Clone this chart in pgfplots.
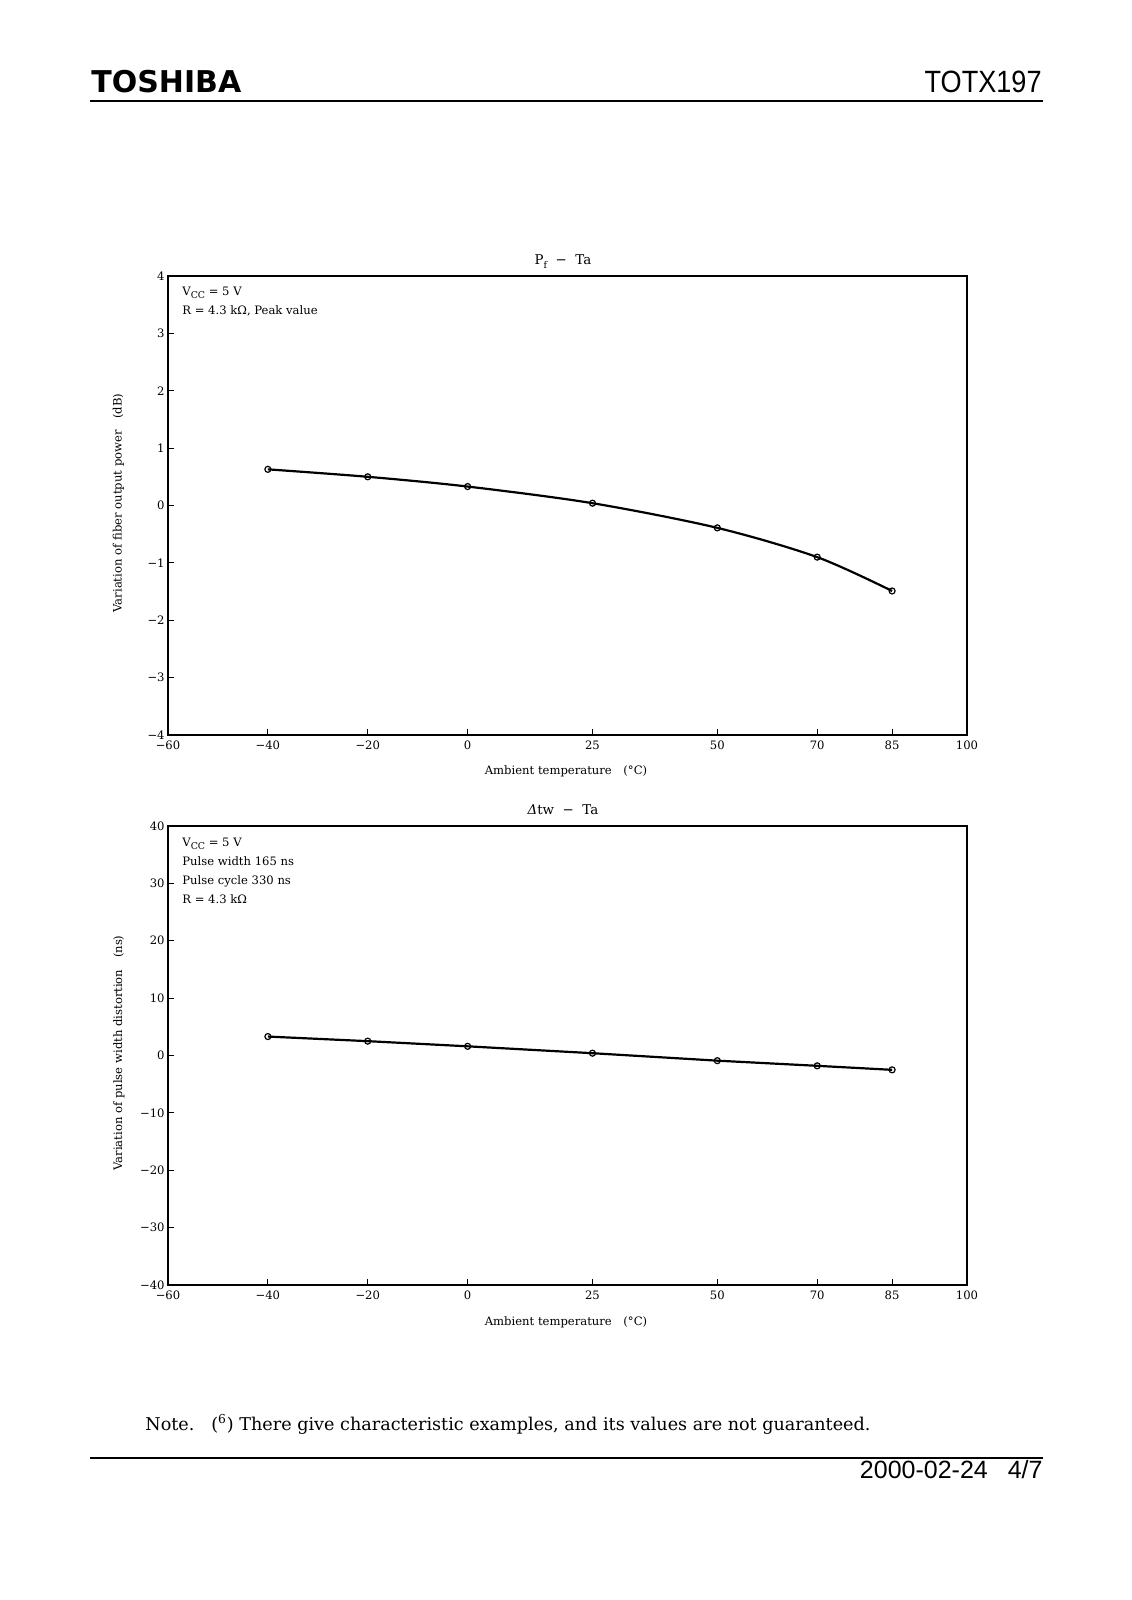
\documentclass[border=0pt]{standalone}
\usepackage{pgfplots}
\pgfplotsset{compat=1.18}
\usepackage{fontspec}
\setmainfont{DejaVu Serif}
\newfontfamily\hdrfont{Liberation Sans}
\newfontfamily\logofont{DejaVu Sans}
\newcommand{\lbl}{\fontsize{5.8}{9.2}\selectfont}
\newcommand{\sub}[1]{\raisebox{-0.45ex}{\fontsize{4.7}{5}\selectfont #1}}

\pgfplotsset{
  sheet/.style={
    scale only axis, width=399.5pt, height=229.5pt, anchor=south west,
    xmin=-60, xmax=100,
    xtick={-60,-40,-20,0,25,50,70,85,100},
    xticklabels={−60,−40,−20,0,25,50,70,85,100},
    tick pos=left, tick align=inside, major tick length=3pt,
    axis line style={line width=1pt},
    tick style={line width=0.6pt, black},
    ticklabel style={font=\lbl, inner sep=1.5pt},
    xticklabel style={yshift=-1.2pt},
  },
  curve/.style={black, line width=1.1pt, mark=o, mark size=1.5pt,
    mark options={fill=white, line width=0.6pt}},
}

\begin{document}
\begin{tikzpicture}
\fill[white] (0,0) rectangle (565.5pt,800pt);

% Pf - Ta
\begin{axis}[sheet, at={(84pt,432.5pt)},
  ymin=-4, ymax=4, ytick={-4,-3,...,4},
  yticklabels={−4,−3,−2,−1,0,1,2,3,4}]
\addplot[curve, smooth] coordinates {
  (-40,0.63) (-20,0.50) (0,0.33) (25,0.04) (50,-0.39) (70,-0.90) (85,-1.49)};
\end{axis}

% dtw - Ta
\begin{axis}[sheet, at={(84pt,157.5pt)},
  ymin=-40, ymax=40, ytick={-40,-30,...,40},
  yticklabels={−40,−30,−20,−10,0,10,20,30,40}]
\addplot[curve] coordinates {
  (-40,3.3) (-20,2.5) (0,1.6) (25,0.4) (50,-0.9) (70,-1.8) (85,-2.5)};
\end{axis}

\begin{scope}[x=0.5pt, y=-0.5pt, yshift=800pt]
  % header
  \node[anchor=base west, inner sep=0, font=\logofont\bfseries\fontsize{15}{15}\selectfont] at (91,93) {TOSHIBA};
  \node[anchor=base east, inner sep=0, font=\hdrfont\fontsize{15.4}{16}\selectfont] at (1042,93) {\scalebox{0.88}[1]{TOTX197}};
  \draw[line width=0.75pt] (90,101) -- (1043,101);

  % titles
  \node[anchor=base, inner sep=0, font=\fontsize{6.7}{8}\selectfont] at (563,265) {P\sub{f}\ \ −\ \ Ta};
  \node[anchor=base, inner sep=0, font=\fontsize{6.7}{8}\selectfont] at (563,815) {\textit{Δ}tw\ \ −\ \ Ta};

  % conditions
  \begin{scope}[every node/.style={anchor=base west, inner sep=0, font=\lbl}]
    \node at (182,296) {V\sub{CC} = 5 V};
    \node at (182,314.5) {R = 4.3 kΩ,\ Peak\ value};
    \node at (182,847) {V\sub{CC} = 5 V};
    \node at (182,866) {Pulse\ width\ 165 ns};
    \node at (182,885) {Pulse\ cycle\ 330 ns};
    \node at (182,904) {R = 4.3 kΩ};
  \end{scope}

  % axis labels
  \begin{scope}[every node/.style={inner sep=0, font=\lbl}]
    \node at (566,771) {Ambient\ temperature\quad(°C)};
    \node at (566,1322) {Ambient\ temperature\quad(°C)};
    \node[rotate=90] at (118.5,503) {Variation\ of\ fiber\ output\ power\quad(dB)};
    \node[rotate=90] at (119,1053) {Variation\ of\ pulse\ width\ distortion\quad(ns)};
  \end{scope}

  % note and footer
  \node[anchor=base west, inner sep=0, font=\fontsize{8.8}{10}\selectfont] at (145,1431)
    {Note.\ \ \ (\textsuperscript{6}) There give characteristic examples, and its values are not guaranteed.};
  \draw[line width=0.75pt] (90,1458) -- (1043,1458);
  \node[anchor=base east, inner sep=0, font=\hdrfont\fontsize{12.5}{14}\selectfont] at (1043,1479)
    {2000-02-24\hspace{10pt}4/7};
\end{scope}
\end{tikzpicture}
\end{document}
